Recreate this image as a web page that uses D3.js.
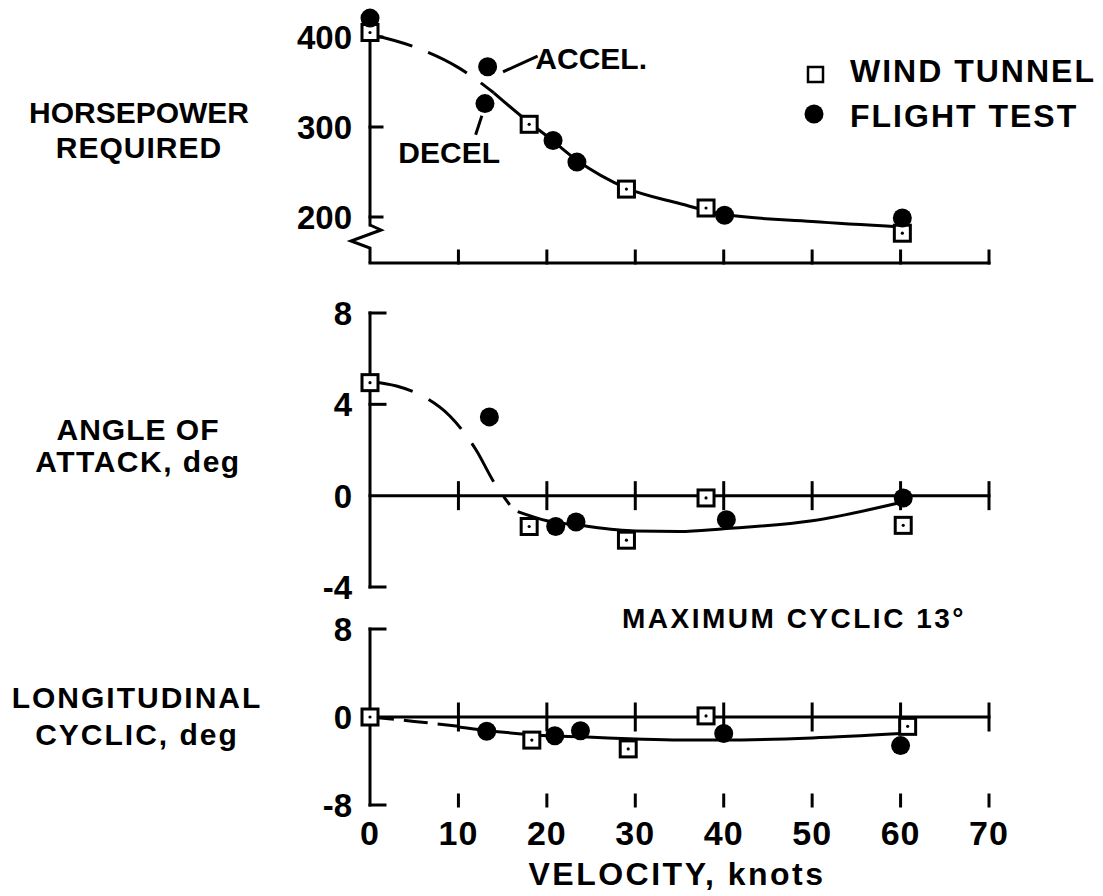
<!DOCTYPE html>
<html>
<head>
<meta charset="utf-8">
<script src="https://cdn.jsdelivr.net/npm/d3@7"></script>
<style>
  body { margin: 0; background: #fff; }
  text { font-family: "Liberation Sans", Arial, sans-serif; font-weight: bold; fill: #000; }
</style>
</head>
<body>
<svg id="chart" width="1103" height="896"></svg>
<script>
// velocity axis
const velocityTicks = [0, 10, 20, 30, 40, 50, 60, 70];

// horsepower required
const hpTicks = [400, 300, 200];
const hpWindX = [0, 18, 29, 38, 60.2];
const hpWindY = [405, 303, 231, 210, 182];
const hpFlightX = [0, 13.3, 13.0, 20.7, 23.4, 40.1, 60.2];
const hpFlightY = [421, 367, 326, 285, 261, 202, 199];
const hpCurveX = [0, 5, 10, 14, 18, 20, 23.4, 29, 35, 40, 50, 60];
const hpCurveY = [403, 389, 366, 338, 305, 290, 263, 232, 215, 203, 195, 189];

// angle of attack
const aoaTicks = [8, 4, 0, -4];
const aoaWindX = [0, 18, 29, 38, 60.3];
const aoaWindY = [4.95, -1.35, -1.95, -0.1, -1.3];
const aoaFlightX = [13.5, 21, 23.3, 40.3, 60.3];
const aoaFlightY = [3.45, -1.35, -1.15, -1.05, -0.1];
const aoaDashX = [0, 3, 6, 9, 12, 14, 15.8];
const aoaDashY = [5, 4.8, 4.35, 3.5, 2.0, 0.6, -0.4];
const aoaSolidX = [16.7, 20, 23.7, 30, 35, 40, 50, 60];
const aoaSolidY = [-0.7, -1.1, -1.3, -1.55, -1.57, -1.45, -1.1, -0.3];

// longitudinal cyclic
const cycTicks = [8, 0, -8];
const cycWindX = [0, 18.3, 29.2, 38, 60.8];
const cycWindY = [0, -2.1, -2.9, 0.1, -0.85];
const cycFlightX = [13.2, 20.9, 23.8, 40, 60];
const cycFlightY = [-1.3, -1.7, -1.25, -1.5, -2.6];
const cycDashX = [0, 5, 10];
const cycDashY = [0, -0.4, -0.85];
const cycSolidX = [10, 13, 20, 24, 30, 35, 40, 50, 60];
const cycSolidY = [-0.9, -1.2, -1.7, -1.8, -2.0, -2.1, -2.1, -1.9, -1.5];

const svg = d3.select("#chart");
const x = d3.scaleLinear().domain([0, 70]).range([370, 989]);
const yHp = d3.scaleLinear().domain([200, 400]).range([217, 37]);
const yAoa = d3.scaleLinear().domain([-4, 8]).range([587, 313]);
const yCyc = d3.scaleLinear().domain([-8, 8]).range([805, 629]);

const zip = (xs, ys) => xs.map((v, i) => [v, ys[i]]);
const lw = 3;

function seg(x1, y1, x2, y2) {
  svg.append("line")
    .attr("x1", x1).attr("y1", y1).attr("x2", x2).attr("y2", y2)
    .attr("stroke", "#000").attr("stroke-width", lw).attr("stroke-linecap", "square");
}

function curve(pts, y, dash) {
  const line = d3.line().x(d => x(d[0])).y(d => y(d[1])).curve(d3.curveMonotoneX);
  svg.append("path")
    .datum(pts)
    .attr("fill", "none")
    .attr("stroke", "#000")
    .attr("stroke-width", lw)
    .attr("stroke-dasharray", dash || null)
    .attr("d", line);
}

function squares(pts, y) {
  const g = svg.append("g");
  g.selectAll("rect").data(pts).enter().append("rect")
    .attr("x", d => x(d[0]) - 8).attr("y", d => y(d[1]) - 8)
    .attr("width", 16).attr("height", 16)
    .attr("fill", "#fff").attr("stroke", "#000").attr("stroke-width", lw);
  g.selectAll("circle").data(pts).enter().append("circle")
    .attr("cx", d => x(d[0])).attr("cy", d => y(d[1])).attr("r", 1.6).attr("fill", "#000");
}

function dots(pts, y) {
  svg.append("g").selectAll("circle").data(pts).enter().append("circle")
    .attr("cx", d => x(d[0])).attr("cy", d => y(d[1])).attr("r", 9.5).attr("fill", "#000");
}

function yLabels(ticks, y) {
  svg.append("g").selectAll("text").data(ticks).enter().append("text")
    .attr("x", 352).attr("y", d => y(d)).attr("dy", "0.36em")
    .attr("text-anchor", "end").style("font-size", "33px")
    .text(d => d < 0 ? "-" + Math.abs(d) : d);
}

function label(lines, cx, y0, gap, spacing) {
  lines.forEach((t, i) => {
    svg.append("text").attr("x", cx).attr("y", y0 + i * gap)
      .attr("text-anchor", "middle").style("font-size", "30px")
      .style("letter-spacing", spacing[i] + "px").text(t);
  });
}

// ---- top panel: horsepower ----
const x0 = x(0);
const baseTop = yHp(200) + 46;
seg(x0, yHp(410), x0, yHp(200) + 8);
svg.append("polyline")
  .attr("points", [[x0, yHp(200) + 8], [x0 + 11, yHp(200) + 13], [x0 - 19, yHp(200) + 24], [x0, yHp(200) + 31], [x0, baseTop]].join(" "))
  .attr("fill", "none").attr("stroke", "#000").attr("stroke-width", lw);
hpTicks.forEach(t => seg(x0, yHp(t), x0 + 12, yHp(t)));
seg(x0, baseTop, x(70), baseTop);
velocityTicks.slice(1).forEach(v => seg(x(v), baseTop, x(v), baseTop - 12));
yLabels(hpTicks, yHp);

curve(zip(hpCurveX, hpCurveY).filter(d => d[0] <= 14), yHp, "44,17");
curve(zip(hpCurveX, hpCurveY).filter(d => d[0] >= 14), yHp);
squares(zip(hpWindX, hpWindY), yHp);
dots(zip(hpFlightX, hpFlightY), yHp);

// accel / decel notes
seg(x(15.2), yHp(362), x(18.8), yHp(378));
svg.append("text").attr("x", x(18.7)).attr("y", yHp(377)).attr("dy", "0.36em")
  .style("font-size", "30px").text("ACCEL.");
seg(x(12.6), yHp(311), x(12.0), yHp(293));
svg.append("text").attr("x", x(3.2)).attr("y", 163)
  .style("font-size", "30px").text("DECEL");

// legend
svg.append("rect").attr("x", 808).attr("y", 67).attr("width", 15).attr("height", 15)
  .attr("fill", "#fff").attr("stroke", "#000").attr("stroke-width", 2.5);
svg.append("text").attr("x", 850).attr("y", 82).style("font-size", "32px")
  .style("letter-spacing", "2px").text("WIND TUNNEL");
svg.append("circle").attr("cx", 814).attr("cy", 114).attr("r", 9.5).attr("fill", "#000");
svg.append("text").attr("x", 850).attr("y", 127).style("font-size", "32px")
  .style("letter-spacing", "2px").text("FLIGHT TEST");

label(["HORSEPOWER", "REQUIRED"], 139, 123, 35, [0, 1]);

// ---- middle panel: angle of attack ----
seg(x0, yAoa(8), x0, yAoa(-4));
[8, 4, -4].forEach(t => seg(x0, yAoa(t), x0 + 15, yAoa(t)));
seg(x0, yAoa(0), x(70), yAoa(0));
velocityTicks.slice(1).forEach(v => seg(x(v), yAoa(0) - 13, x(v), yAoa(0) + 13));
yLabels(aoaTicks, yAoa);

curve(zip(aoaDashX, aoaDashY), yAoa, "44,18");
curve(zip(aoaSolidX, aoaSolidY), yAoa);
squares(zip(aoaWindX, aoaWindY), yAoa);
dots(zip(aoaFlightX, aoaFlightY), yAoa);

label(["ANGLE OF", "ATTACK, deg"], 138, 440, 32, [1, 1.5]);

// ---- bottom panel: longitudinal cyclic ----
seg(x0, yCyc(8), x0, yCyc(-8));
[8, -8].forEach(t => seg(x0, yCyc(t), x0 + 15, yCyc(t)));
seg(x0, yCyc(0), x(70), yCyc(0));
velocityTicks.slice(1).forEach(v => seg(x(v), yCyc(0) - 13, x(v), yCyc(0) + 13));
yLabels(cycTicks, yCyc);

curve(zip(cycDashX, cycDashY), yCyc, "24,10");
curve(zip(cycSolidX, cycSolidY), yCyc);
squares(zip(cycWindX, cycWindY), yCyc);
dots(zip(cycFlightX, cycFlightY), yCyc);

svg.append("text").attr("x", 622).attr("y", 628).style("font-size", "28px")
  .style("letter-spacing", "2.5px").text("MAXIMUM CYCLIC 13°");

label(["LONGITUDINAL", "CYCLIC, deg"], 137, 708, 37, [2, 2]);

// velocity ticks and labels below
velocityTicks.slice(1).forEach(v => seg(x(v), 795, x(v), 806));
svg.append("g").selectAll("text").data(velocityTicks).enter().append("text")
  .attr("x", d => x(d)).attr("y", 845).attr("text-anchor", "middle")
  .style("font-size", "34px").style("letter-spacing", "1px").text(d => d);
svg.append("text").attr("x", 677).attr("y", 885).attr("text-anchor", "middle")
  .style("font-size", "32px").style("letter-spacing", "2.5px").text("VELOCITY, knots");
</script>
</body>
</html>
